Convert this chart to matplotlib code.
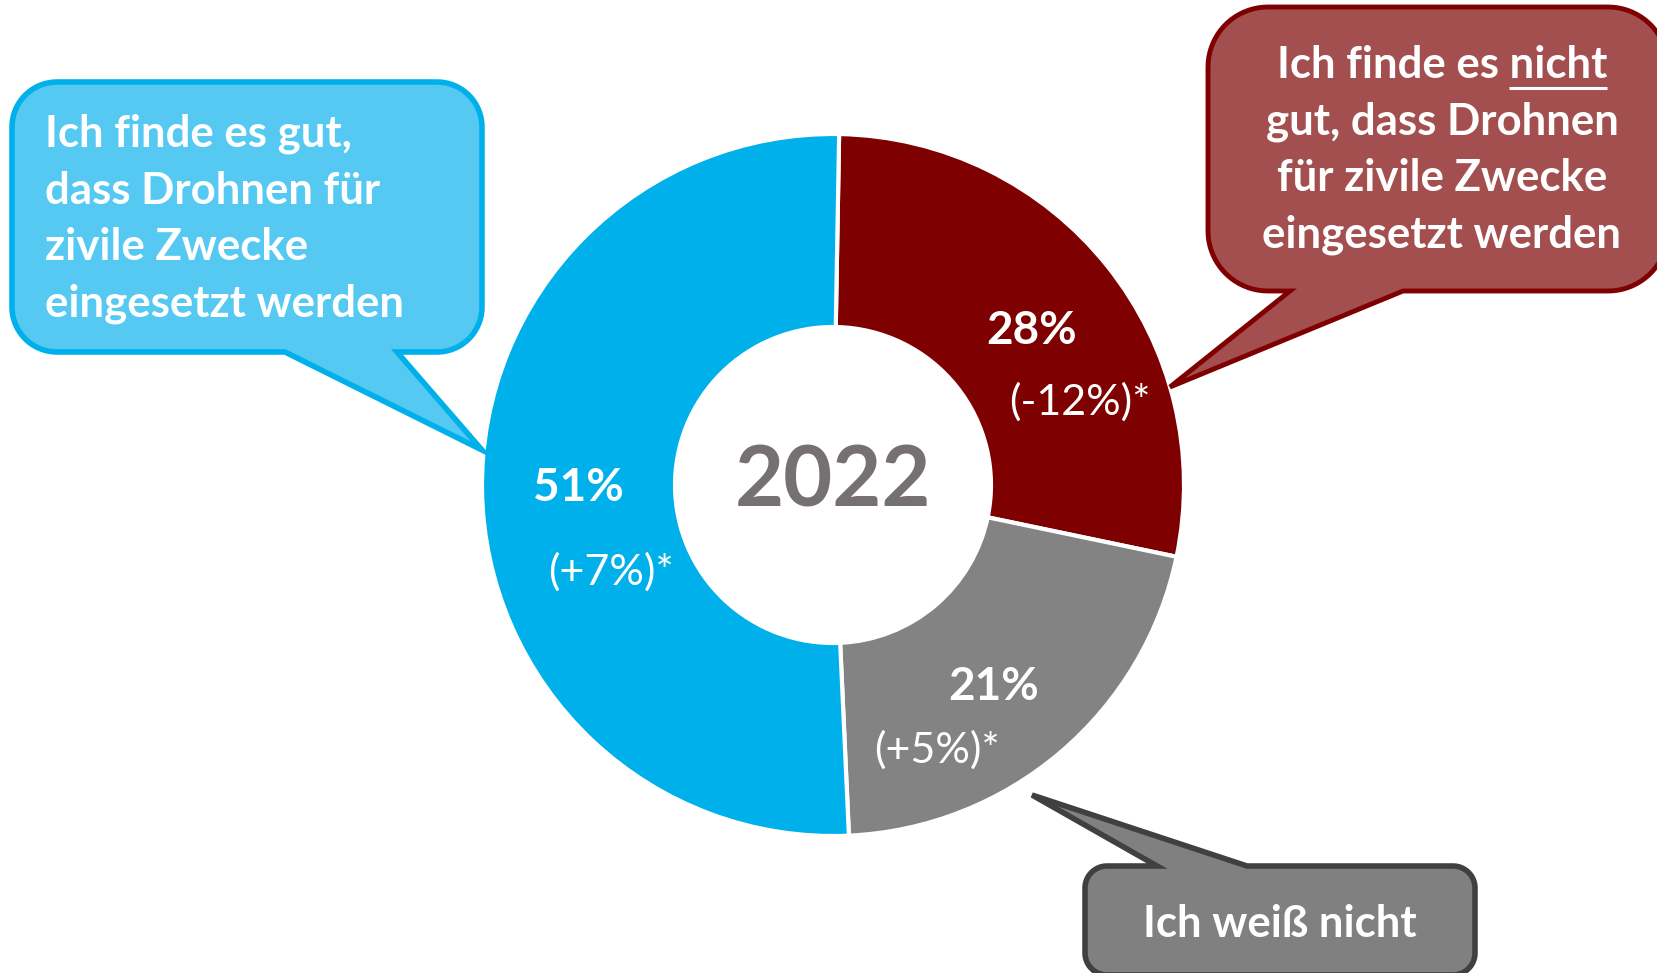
import numpy as np
import matplotlib.pyplot as plt
from matplotlib.patches import Polygon

plt.rcParams['font.family'] = ['Lato', 'DejaVu Sans']

# data
labels = ["Ich finde es nicht gut", "Ich weiß nicht", "Ich finde es gut"]
shares = [28, 21, 51]
changes = ["(-12%)*", "(+5%)*", "(+7%)*"]
colors = ["#7f0000", "#838383", "#00b0ea"]
year = "2022"

W, H = 1657, 973


def Y(y):
    # picture rows run downwards, axes upwards
    return H - y


fig = plt.figure(figsize=(W / 100, H / 100), dpi=100)
ax = fig.add_axes([0, 0, 1, 1])

cx, cy, R, r_in = 833, 485, 351, 158
wedges, _ = ax.pie(shares, colors=colors, startangle=89, counterclock=False,
                   center=(cx, Y(cy)), radius=R, frame=True,
                   wedgeprops=dict(width=R - r_in, edgecolor='white', linewidth=3))
ax.set_xlim(0, W)
ax.set_ylim(0, H)
ax.set_aspect('equal')
ax.axis('off')

ax.text(cx, Y(482), year, ha='center', va='center', fontsize=61,
        fontweight='bold', color='#767171')

pct_pos = [(1032, 331), (994, 687), (578, 488)]
chg_pos = [(1080, 402), (937, 750), (611, 572)]
for s, c, p, q in zip(shares, changes, pct_pos, chg_pos):
    ax.text(p[0], Y(p[1]), f"{s}%", ha='center', va='center', fontsize=33,
            fontweight='bold', color='white')
    ax.text(q[0], Y(q[1]), c, ha='center', va='center', fontsize=31,
            color='white')


def bubble(x0, y0, x1, y1, rad, side, a, b, tip, fc, ec, lw):
    left, right, bot, top = x0, x1, Y(y1), Y(y0)
    tip = (tip[0], Y(tip[1]))
    pts = []

    def arc(ccx, ccy, a0, a1):
        t = np.radians(np.linspace(a0, a1, 20))
        return list(zip(ccx + rad * np.cos(t), ccy + rad * np.sin(t)))

    if side == 'bottom':
        pts += [(left + rad, bot), (a, bot), tip, (b, bot)]
    else:
        pts += [(left + rad, bot)]
    pts += arc(right - rad, bot + rad, -90, 0)
    pts += arc(right - rad, top - rad, 0, 90)
    if side == 'top':
        pts += [(b, top), tip, (a, top)]
    pts += arc(left + rad, top - rad, 90, 180)
    pts += arc(left + rad, bot + rad, 180, 270)
    ax.add_patch(Polygon(pts, closed=True, facecolor=fc, edgecolor=ec,
                         linewidth=lw, joinstyle='miter', zorder=3))


bubble(12, 82, 482, 352, 45, 'bottom', 285, 397, (482, 450),
       '#55c9f2', '#00b0ea', 4)
bubble(1208, 7, 1668, 291, 60, 'bottom', 1290, 1403, (1170, 387),
       '#a44f4f', '#7f0000', 3.5)
bubble(1085, 866, 1475, 975, 22, 'top', 1157, 1247, (1032, 795),
       '#808080', '#404040', 4)

fs = 31.5
lh = 56.5
good = ["Ich finde es gut,", "dass Drohnen für", "zivile Zwecke",
        "eingesetzt werden"]
for i, line in enumerate(good):
    ax.text(45, Y(147 + i * lh), line, ha='left', va='baseline', fontsize=fs,
            fontweight='bold', color='white', zorder=4)

bad = ["Ich finde es nicht", "gut, dass Drohnen", "für zivile Zwecke",
       "eingesetzt werden"]
for i, line in enumerate(bad):
    t = ax.text(1442, Y(78 + i * lh), line, ha='center', va='baseline',
                fontsize=fs, fontweight='bold', color='white', zorder=4)
    if i == 0:
        first = t

# underline under "nicht"
rend = fig.canvas.get_renderer()
full = first.get_window_extent(rend)
tmp = ax.text(0, 0, "nicht", fontsize=fs, fontweight='bold')
wn = tmp.get_window_extent(rend).width
tmp.remove()
ax.plot([full.x1 - wn, full.x1], [Y(88), Y(88)], color='white', lw=2.2,
        solid_capstyle='butt', zorder=4)

ax.text(1280, Y(937), "Ich weiß nicht", ha='center', va='baseline',
        fontsize=fs, fontweight='bold', color='white', zorder=4)

fig.savefig('out.png', dpi=100)
